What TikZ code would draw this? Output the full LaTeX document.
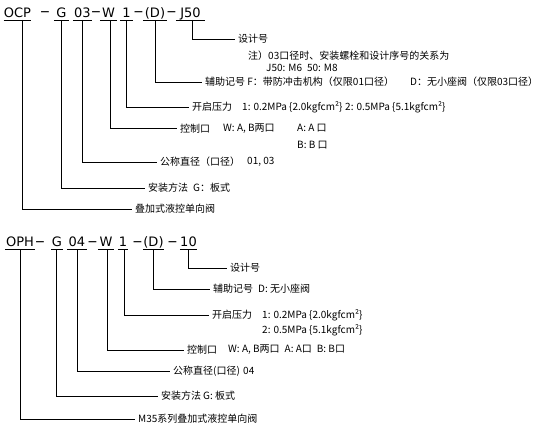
\documentclass[tikz,border=0pt]{standalone}
\usepackage{fontspec}
\setmainfont{Noto Sans CJK SC}
\newfontfamily\codefont{DejaVu Sans}
\newfontfamily\dashfont{Liberation Sans}
\usetikzlibrary{calc}

\tikzset{
  code/.style={font=\codefont\fontsize{13}{15}\selectfont, inner sep=0pt, anchor=base},
  dashsym/.style={font=\dashfont\fontsize{16}{16}\selectfont, inner sep=0pt, anchor=base},
  lbl/.style={font=\fontsize{10}{12}\selectfont, inner sep=0pt, anchor=west},
  lead/.style={line width=0.8pt, shorten >=3pt},
  uline/.style={line width=0.8pt}
}

\begin{document}
\begin{tikzpicture}[x=1pt,y=-1pt]
  \useasboundingbox (0,0) rectangle (540,430);

  % upper model code
  \node[code, minimum width=25] (ocp) at (17.5,17.5) {OCP};
  \node[dashsym] at (45,18) {−};
  \node[code, minimum width=15] (tg) at (61.5,17.5) {G};
  \node[code, minimum width=19] (tdia) at (82.5,17.5) {03};
  \node[dashsym] at (96,18) {−};
  \node[code, minimum width=17] (tw) at (108.5,17.5) {W};
  \node[code, minimum width=13] (tp) at (126.5,17.5) {1};
  \node[dashsym] at (138.5,18) {−};
  \node[code, minimum width=24] (taux) at (155,17.5) {(D)};
  \node[dashsym] at (171.5,18) {−};
  \node[code, minimum width=29] (tdes) at (190.5,17.5) {J50};
  \foreach \n in {ocp,tg,tdia,tw,tp,taux,tdes}
    \draw[uline] ([yshift=-2.5pt]\n.base west) -- ([yshift=-2.5pt]\n.base east);

  \node[lbl] (ldes) at (238,39) {设计号};
  \node[lbl] (note1) at (248,56) {注）03口径时、安装螺栓和设计序号的关系为};
  \node[lbl] (note2) at (266,68) {J50: M6\enspace 50: M8};
  \node[lbl] (laux) at (205,82) {辅助记号 F：带防冲击机构（仅限01口径）};
  \node[lbl] (laux2) at (410,82) {D：无小座阀（仅限03口径）};
  \node[lbl] (lp) at (192,107) {开启压力};
  \node[lbl] (lp1) at (242,107) {1: 0.2MPa \{2.0kgfcm²\}};
  \node[lbl] (lp2) at (345,107) {2: 0.5MPa \{5.1kgfcm²\}};
  \node[lbl] (lw) at (180,128.5) {控制口};
  \node[lbl] (lw1) at (223,128.5) {W: A, B两口};
  \node[lbl] (lw2) at (297,128.5) {A: A 口};
  \node[lbl] (lw3) at (297,145) {B: B 口};
  \node[lbl] (ldia) at (160,162) {公称直径（口径）};
  \node[lbl] (ldia1) at (247,162) {01, 03};
  \node[lbl] (lg) at (148,188) {安装方法};
  \node[lbl] (lg1) at (193,188) {G：板式};
  \node[lbl] (lo) at (135,209) {叠加式液控单向阀};

  \draw[lead] ([xshift=1.5pt,yshift=-2.5pt]tdes.base) |- (ldes.west);
  \draw[lead] ([yshift=-2.5pt]taux.base) |- (laux.west);
  \draw[lead] ([yshift=-2.5pt]tp.base) |- (lp.west);
  \draw[lead] ([xshift=1.5pt,yshift=-2.5pt]tw.base) |- (lw.west);
  \draw[lead] ([yshift=-2.5pt]tdia.base) |- (ldia.west);
  \draw[lead] ([yshift=-2.5pt]tg.base) |- (lg.west);
  \draw[lead] ([xshift=4.5pt,yshift=-2.5pt]ocp.base) |- (lo.west);

  % lower model code
  \node[code, minimum width=30] (oph) at (20,247) {OPH};
  \node[dashsym] at (40,247.5) {−};
  \node[code, minimum width=11] (bg) at (57,247) {G};
  \node[code, minimum width=20] (bdia) at (77,247) {04};
  \node[dashsym] at (92.5,247.5) {−};
  \node[code, minimum width=16] (bw) at (106,247) {W};
  \node[code, minimum width=10] (bp) at (123,247) {1};
  \node[dashsym] at (137.5,247.5) {−};
  \node[code, minimum width=21] (baux) at (153.5,247) {(D)};
  \node[dashsym] at (172.5,247.5) {−};
  \node[code, minimum width=17] (bdes) at (188.5,247) {10};
  \foreach \n in {oph,bg,bdia,bw,bp,baux,bdes}
    \draw[uline] ([yshift=-2.5pt]\n.base west) -- ([yshift=-2.5pt]\n.base east);

  \node[lbl] (mdes) at (230,268) {设计号};
  \node[lbl] (maux) at (213,289) {辅助记号\enspace D: 无小座阀};
  \node[lbl] (mp) at (212,315) {开启压力};
  \node[lbl] (mp1) at (262,315) {1: 0.2MPa \{2.0kgfcm²\}};
  \node[lbl] (mp2) at (262,330) {2: 0.5MPa \{5.1kgfcm²\}};
  \node[lbl] (mw) at (187,350) {控制口};
  \node[lbl] (mw1) at (228,350) {W: A, B两口\enspace A: A口\enspace B: B口};
  \node[lbl] (mdia) at (173,371) {公称直径(口径)};
  \node[lbl] (mdia1) at (243,371) {04};
  \node[lbl] (mg) at (161,396) {安装方法};
  \node[lbl] (mg1) at (203,396) {G: 板式};
  \node[lbl] (mo) at (138,419) {M35系列叠加式液控单向阀};

  \draw[lead] ([yshift=-2.5pt]bdes.base) |- (mdes.west);
  \draw[lead] ([yshift=-2.5pt]baux.base) |- (maux.west);
  \draw[lead] ([xshift=1pt,yshift=-2.5pt]bp.base) |- (mp.west);
  \draw[lead] ([xshift=1pt,yshift=-2.5pt]bw.base) |- (mw.west);
  \draw[lead] ([yshift=-2.5pt]bdia.base) |- (mdia.west);
  \draw[lead] ([xshift=-1pt,yshift=-2.5pt]bg.base) |- (mg.west);
  \draw[lead] ([yshift=-2.5pt]oph.base) |- (mo.west);
\end{tikzpicture}
\end{document}
